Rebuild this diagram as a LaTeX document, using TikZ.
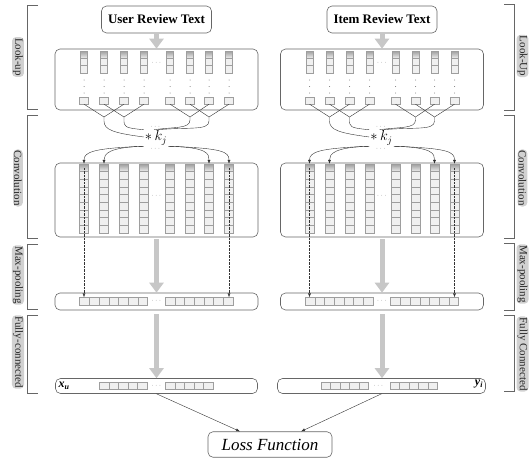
\documentclass[tikz,border=0pt]{standalone}
\usepackage{fontspec}
\setmainfont{Liberation Serif}
\usepackage{amsmath}
\usetikzlibrary{positioning,calc,arrows.meta}

\begin{document}
\begin{tikzpicture}
	[   x=1pt,y=-1pt,
	    box/.style={draw=black!60,rounded corners=5pt,line width=0.6pt,inner sep=0pt},
	    cell/.style={draw=black!38,fill=black!6,line width=0.35pt,inner sep=0pt,minimum width=#1,minimum height=7.6pt},
	    topcell/.style={cell=#1,top color=black!38,bottom color=black!6},
	    side/.style={fill=black!18,text=black!85,rounded corners=4pt,inner sep=1pt,rotate=-90,font=\fontsize{11}{12}\selectfont},
	    bracket/.style={draw=black!60,line width=0.5pt},
	    gap/.style={text=black!50,inner sep=0pt,font=\fontsize{7}{7}\selectfont},
	    wire/.style={draw=black!80,line width=0.4pt},
	]
	\tikzset{normal arrow/.style={draw=black!80,line width=0.4pt,-{Latex[length=4pt,width=3pt]}},
	         dot arrow/.style={normal arrow,densely dotted},
	         fat arrow/.style={draw=black!22,line width=5pt,-{Triangle[length=10pt,width=14pt]}}}
	\useasboundingbox (0,0) rectangle (530,460);
	
	% two towers
	\foreach \p/\dx/\name in {u/0/User Review Text,i/225.5/Item Review Text}
	{
	\begin{scope}[shift={(\dx,0)}]
		\node[box,minimum width=110pt,minimum height=27pt,font=\bfseries\fontsize{13}{13}\selectfont] (text-\p) at (156.5,19.5) {\name};
		\node[box,minimum width=203pt,minimum height=61pt] (look-\p) at (156.5,79.5) {};
		\node[box,minimum width=203pt,minimum height=74pt] (conv-\p) at (156.5,200) {};
		\node[box,minimum width=203pt,minimum height=17pt] (pool-\p) at (156.5,301.5) {};
		\node[gap] at (157,63) {$\cdots$};
		\node[gap] at (157,196) {$\cdots$};
		\node[gap] at (157,301) {$\cdots$};
		
		\foreach \i/\x in {1/84,2/104,3/124,4/144,5/170,6/190,7/209,8/229}
		{
			\node[topcell=7pt,minimum height=7.3pt] (lt-\p-\i) at (\x,54.7) {};
			\node[cell=7pt,minimum height=7.3pt] at (\x,62) {};
			\node[cell=7pt,minimum height=7.3pt] at (\x,69.3) {};
			\foreach \y in {80,86.5,93} \fill[black!55] (\x,\y) circle (0.5pt);
			\node[cell=9pt,minimum height=7pt] (lb-\p-\i) at (\x,100.5) {};
			\foreach \k in {1,...,9}
			{
				\pgfmathsetmacro{\yy}{164+7.667*(\k-0.5)}
				\ifnum \k = 1
				\node[topcell=9pt,minimum height=7.667pt] (c-\p-\i-\k) at (\x,\yy) {};
				\else
				\node[cell=9pt,minimum height=7.667pt] (c-\p-\i-\k) at (\x,\yy) {};
				\fi
			}
		}
		\foreach \k in {1,...,7}
		{
			\node[cell=9.7pt,minimum height=8pt] (pc-\p-\k) at ({84.5+9.7*(\k-1)},301.5) {};
			\pgfmathtruncatemacro{\kk}{\k+7}
			\node[cell=9.7pt,minimum height=8pt] (pc-\p-\kk) at ({170+9.7*(\k-1)},301.5) {};
		}
		
		% filter windows
		\coordinate (m-\p-1) at (104,117);
		\coordinate (m-\p-2) at (124,117);
		\coordinate (m-\p-3) at (190,117);
		\coordinate (m-\p-4) at (209,117);
		\foreach \a/\b/\m in {1/3/1,2/4/2,5/7/3,6/8/4}
		{
			\draw[wire] (lb-\p-\a.south) -- (m-\p-\m);
			\draw[wire] (lb-\p-\b.south) -- (m-\p-\m);
		}
		\node[inner sep=1pt,font=\fontsize{14}{14}\selectfont] (kj-\p) at (156,138) {$\ast\,k_j$};
		\node[gap,above=1pt of kj-\p] {$\cdots$};
		\node[gap,below=1pt of kj-\p] {$\cdots$};
		\draw[wire] (m-\p-1) -- ++(0,4) .. controls +(0,9) and +(-30,-4) .. ([yshift=1pt]kj-\p.west);
		\draw[wire] (m-\p-2) -- ++(0,2) .. controls +(0,8) and +(-20,-2) .. (kj-\p.north west);
		\draw[wire] (m-\p-3) -- ++(0,3) .. controls +(0,9) and +(20,-3) .. ([xshift=-2pt]kj-\p.north);
		\draw[wire] (m-\p-4) -- ++(0,4) .. controls +(0,10) and +(30,-3) .. ([xshift=2pt]kj-\p.north);
		\draw[normal arrow] (kj-\p.south west) .. controls +(-50,2) and +(0,-12) .. (c-\p-1-1.north);
		\draw[normal arrow] (kj-\p.south west) .. controls +(-35,1) and +(0,-10) .. (c-\p-2-1.north);
		\draw[normal arrow] (kj-\p.south east) .. controls +(40,1) and +(0,-10) .. (c-\p-7-1.north);
		\draw[normal arrow] (kj-\p.south east) .. controls +(55,2) and +(0,-12) .. (c-\p-8-1.north);
		
		\draw[dot arrow] (c-\p-1-1.center) -- (c-\p-1-1.center |- pc-\p-1.north);
		\draw[dot arrow] (c-\p-8-1.center) -- (c-\p-8-1.center |- pc-\p-14.north);
		
		\draw[fat arrow] (text-\p.south) -- (look-\p.north);
		\draw[fat arrow] ([yshift=-2pt]conv-\p.south) -- (pool-\p.north);
	\end{scope}
	}
	
	% fully connected
	\node[box,minimum width=202pt,minimum height=15pt] (fc-u) at (156.5,386) {};
	\node[box,minimum width=208pt,minimum height=15pt] (fc-i) at (381.5,386) {};
	\node[font=\bfseries\itshape\fontsize{12}{12}\selectfont] (xu) at (64,385.5) {x\textsubscript{u}};
	\node[font=\bfseries\itshape\fontsize{12}{12}\selectfont] (yi) at (479,384.5) {y\textsubscript{i}};
	\node[gap] at (157,386) {$\cdots$};
	\node[gap] at (379,386) {$\cdots$};
	\foreach \k in {1,...,5}
	{
		\node[cell=9.5pt,minimum height=7pt] (fu-\k) at ({104.4+9.5*(\k-1)},386) {};
		\node[cell=9.5pt,minimum height=7pt] (fu-\k b) at ({170.3+9.5*(\k-1)},386) {};
		\node[cell=9.5pt,minimum height=7pt] (fi-\k) at ({325.7+9.5*(\k-1)},386) {};
		\node[cell=9.5pt,minimum height=7pt] (fi-\k b) at ({394.8+9.5*(\k-1)},386) {};
	}
	\draw[fat arrow] ([yshift=-4pt]pool-u.south) -- (pool-u.south |- fc-u.north);
	\draw[fat arrow] ([yshift=-4pt]pool-i.south) -- (pool-i.south |- fc-i.north);
	
	\node[box,minimum width=124pt,minimum height=25.5pt,font=\itshape\fontsize{17}{17}\selectfont] (loss) at (270,444.5) {Loss Function};
	\draw[normal arrow] (fc-u.south) -- ([xshift=-30pt]loss.north);
	\draw[normal arrow] (fc-i.south) -- ([xshift=31pt]loss.north);
	
	% stage brackets
	\foreach \a/\b in {5/109,115/238,244/309,315/393}
		\draw[bracket] (38,\a) -- (27,\a) -- (27,\b) -- (38,\b);
	\foreach \a/\b in {4/110,115/238,243/310,315/391}
		\draw[bracket] (504,\a) -- (514,\a) -- (514,\b) -- (504,\b);
	\node[side] (lu-1) at (18,57) {Look-up};
	\node[side] (lu-2) at (18,178) {Convolution};
	\node[side] (lu-3) at (18,275) {Max-pooling};
	\node[side] (lu-4) at (18,352) {Fully-connected};
	\node[side] (li-1) at (522.5,56) {Look-Up};
	\node[side] (li-2) at (522.5,178) {Convolution};
	\node[side] (li-3) at (522.5,274) {Max-pooling};
	\node[side] (li-4) at (522.5,354) {Fully Connected};
\end{tikzpicture}
\end{document}
